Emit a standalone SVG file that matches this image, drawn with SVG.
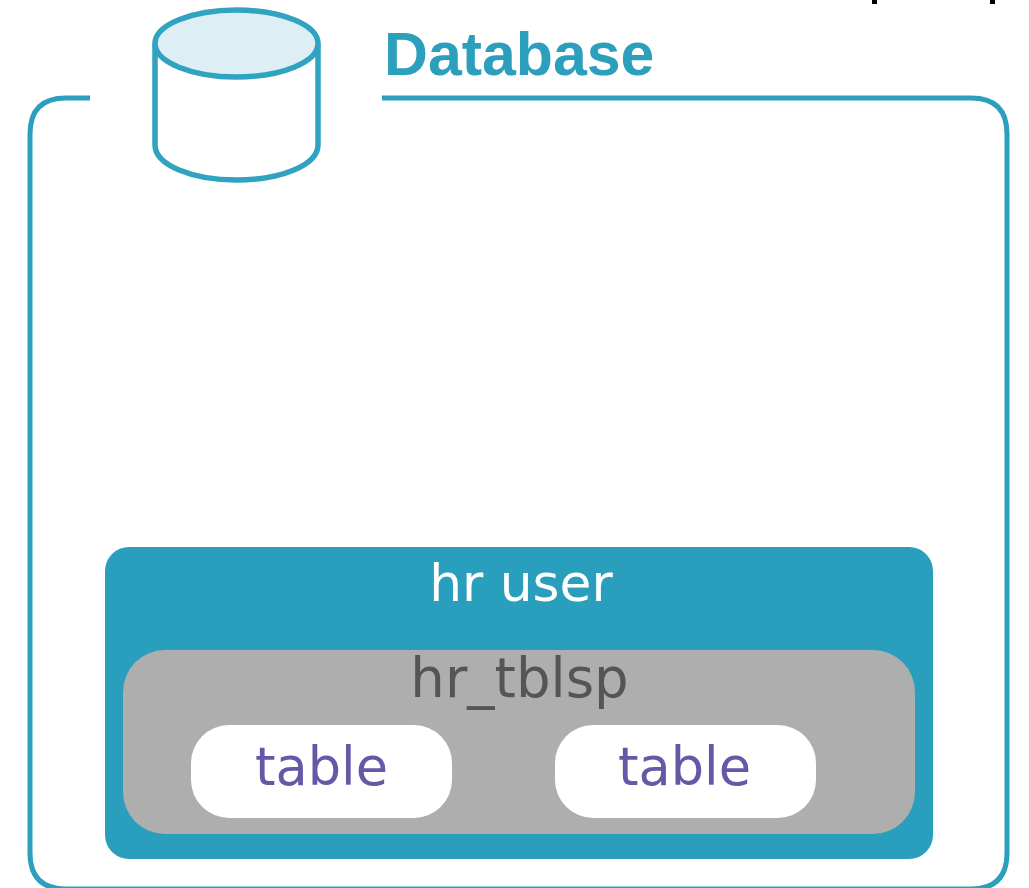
<svg xmlns="http://www.w3.org/2000/svg" width="1029" height="888" viewBox="0 0 1029 888">
<style>
.lbl{font-family:"DejaVu Sans",sans-serif;text-anchor:middle}
.tbl{fill:#ffffff}
.tt{fill:#6558a6;font-size:52.500px}
</style>
<rect width="1029" height="888" fill="#ffffff"/>
<g id="crop-marks" fill="#000000"><rect x="872" y="0" width="5" height="4"/><rect x="990" y="0" width="5" height="4"/></g>
<g id="database">
<path d="M90 98H66C42 98 30 110 30 134V853C30 877 42 889 66 889H971C995 889 1007 877 1007 853V134C1007 110 995 98 971 98H382" fill="none" stroke="#2b9fbc" stroke-width="5"/>
<text x="384" y="75" font-family="'Liberation Sans',Arial,sans-serif" font-weight="700" font-size="60.800" fill="#2b9fbc">Database</text>
</g>
<g id="cylinder">
<path d="M155 44V145C155 165 192 180 236.500 180C281 180 318 165 318 145V44" fill="#ffffff" stroke="#2fa3bf" stroke-width="5.500"/>
<ellipse cx="236.500" cy="43.500" rx="81.500" ry="33.500" fill="#ddeef4" stroke="#2fa3bf" stroke-width="5.500"/>
</g>
<g id="hr-user">
<rect x="105" y="547" width="828" height="312" rx="24" fill="#2a9fbd"/>
<text x="521" y="600.500" class="lbl" font-size="51.800" fill="#ffffff">hr user</text>
</g>
<g id="hr-tblsp">
<rect x="123" y="650" width="792" height="184" rx="42" fill="#aeaeae"/>
<text x="519.500" y="697" class="lbl" font-size="54.500" fill="#555555">hr_tblsp</text>
</g>
<g id="table-1">
<rect class="tbl" x="191" y="725" width="261" height="93" rx="38"/>
<text x="321.500" y="785" class="lbl tt">table</text>
</g>
<g id="table-2">
<rect class="tbl" x="555" y="725" width="261" height="93" rx="38"/>
<text x="684.500" y="785" class="lbl tt">table</text>
</g>
<g id="connectors"></g>
</svg>
